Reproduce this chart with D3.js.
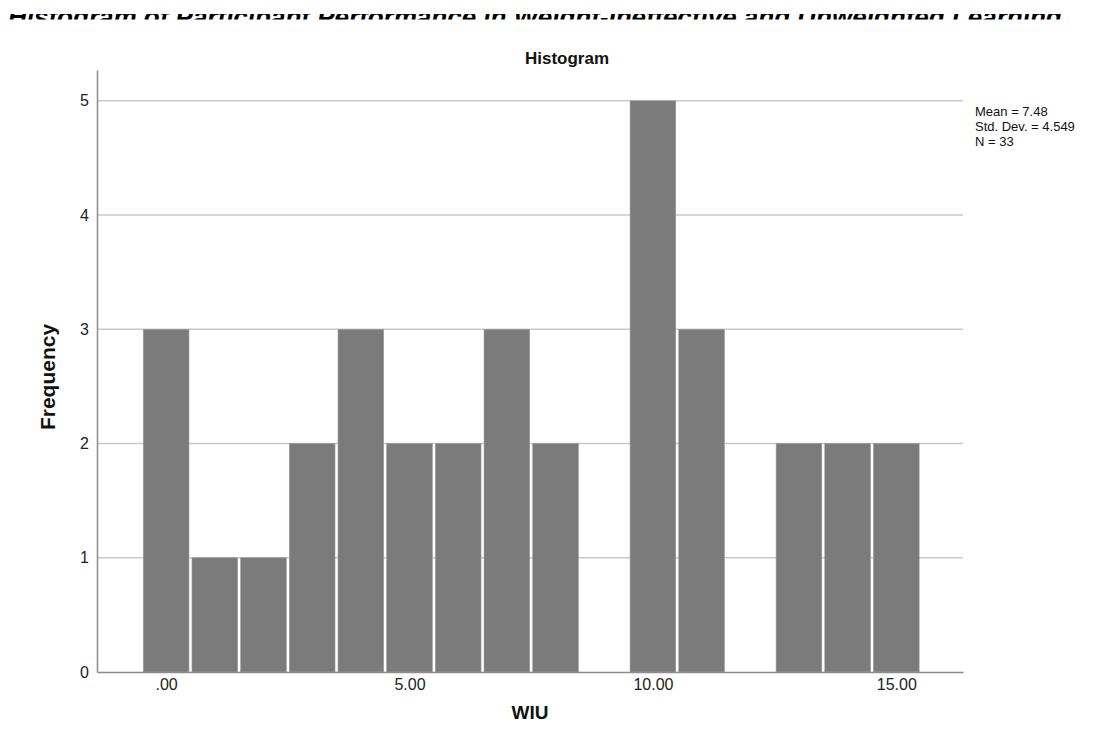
<!DOCTYPE html>
<html>
<head>
<meta charset="utf-8">
<script src="https://cdn.jsdelivr.net/npm/d3@7"></script>
<style>
  html, body { margin: 0; padding: 0; background: #fff; }
  svg { display: block; font-family: "Liberation Sans", Arial, sans-serif; }
</style>
</head>
<body>
<svg id="chart" width="1104" height="733"></svg>
<script>
'use strict';

// Bin centres (WIU) and counts
const binCenters = [0, 1, 2, 3, 4, 5, 6, 7, 8, 9, 10, 11, 12, 13, 14, 15];
const counts     = [3, 1, 1, 2, 3, 2, 2, 3, 2, 0, 5, 3, 0, 2, 2, 2];
const xTicks     = [0, 5, 10, 15];
const yTicks     = [0, 1, 2, 3, 4, 5];
const statsLines = ['Mean = 7.48', 'Std. Dev. = 4.549', 'N = 33'];

const BAR_FILL  = '#7b7b7b';
const GRID      = '#c9c9c9';
const AXIS      = '#8c8c8c';

const svg = d3.select('#chart');

const x = d3.scaleLinear().domain([-1.42, 16.37]).range([97, 963]);
const y = d3.scaleLinear().domain([0, 5.27]).range([672, 70]);

// ── Page caption above the chart: only a thin slice of it shows in the source ──
svg.append('defs').append('clipPath')
  .attr('id', 'caption-clip')
  .append('rect')
    .attr('x', 0).attr('y', 14)
    .attr('width', 1104).attr('height', 5.5);

svg.append('text')
  .attr('clip-path', 'url(#caption-clip)')
  .attr('x', 8)
  .attr('y', 26)
  .attr('font-size', 26)
  .attr('font-weight', 'bold')
  .attr('font-style', 'italic')
  .attr('fill', '#000')
  .text('Histogram of Participant Performance in Weight-Ineffective and Unweighted Learning');

// ── Gridlines ────────────────────────────────────────────────
svg.append('g')
  .selectAll('line')
  .data(yTicks.filter(d => d > 0))
  .join('line')
    .attr('x1', x.range()[0])
    .attr('x2', x.range()[1])
    .attr('y1', d => y(d))
    .attr('y2', d => y(d))
    .attr('stroke', GRID)
    .attr('stroke-width', 1.5);

// ── Bars ─────────────────────────────────────────────────────
svg.append('g')
  .selectAll('rect')
  .data(binCenters.map((c, i) => ({ c, n: counts[i] })).filter(d => d.n > 0))
  .join('rect')
    .attr('x', d => x(d.c - 0.5) + 1.5)
    .attr('width', d => x(d.c + 0.5) - x(d.c - 0.5) - 3)
    .attr('y', d => y(d.n))
    .attr('height', d => y(0) - y(d.n))
    .attr('fill', BAR_FILL)
    .attr('stroke', '#9a9a9a')
    .attr('stroke-width', 0.6);

// ── Axes ─────────────────────────────────────────────────────
const yAxis = svg.append('g')
  .attr('transform', `translate(${x.range()[0]},0)`)
  .call(d3.axisLeft(y).tickValues(yTicks).tickSize(0).tickPadding(8)
    .tickFormat(d3.format('d')));

const xAxis = svg.append('g')
  .attr('transform', `translate(0,${y(0)})`)
  .call(d3.axisBottom(x).tickValues(xTicks).tickSize(0).tickPadding(7)
    .tickFormat(d => d === 0 ? '.00' : d3.format('.2f')(d)));

[yAxis, xAxis].forEach(g => {
  g.attr('font-size', null).attr('font-family', null);
  g.select('.domain').attr('stroke', AXIS).attr('stroke-width', 1.5);
  g.selectAll('text')
    .style('font-size', '16px')
    .style('font-family', '"Liberation Sans", Arial, sans-serif')
    .attr('fill', '#222');
});

// ── Titles ───────────────────────────────────────────────────
svg.append('text')
  .attr('x', 567)
  .attr('y', 64)
  .attr('text-anchor', 'middle')
  .attr('font-size', 17)
  .attr('font-weight', 'bold')
  .attr('fill', '#111')
  .text('Histogram');

svg.append('text')
  .attr('transform', `translate(55,377) rotate(-90)`)
  .attr('text-anchor', 'middle')
  .attr('font-size', 21)
  .attr('font-weight', 'bold')
  .attr('fill', '#111')
  .text('Frequency');

svg.append('text')
  .attr('x', 530)
  .attr('y', 719)
  .attr('text-anchor', 'middle')
  .attr('font-size', 19)
  .attr('font-weight', 'bold')
  .attr('fill', '#111')
  .text('WIU');

// ── Summary statistics ───────────────────────────────────────
svg.append('g')
  .selectAll('text')
  .data(statsLines)
  .join('text')
    .attr('x', 975)
    .attr('y', (d, i) => 116 + i * 15)
    .style('font-size', '13px')
    .attr('fill', '#111')
    .text(d => d);
</script>
</body>
</html>
